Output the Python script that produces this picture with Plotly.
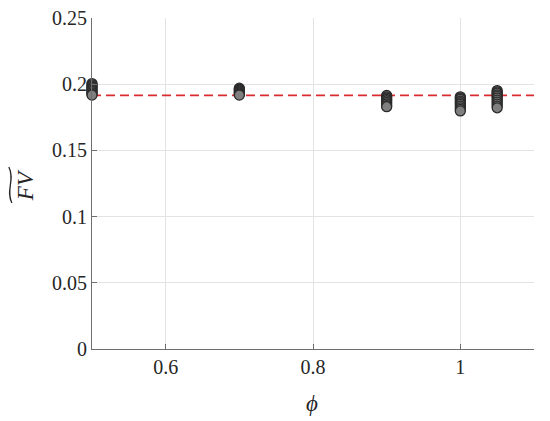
import plotly.graph_objects as go

phi_values = [0.5, 0.7, 0.9, 1.0, 1.05]
fv_by_phi = [
    [0.2005, 0.1995, 0.1985, 0.1975, 0.1965, 0.1955, 0.1945, 0.1935, 0.1925, 0.1918],
    [0.1970, 0.1962, 0.1955, 0.1948, 0.1940, 0.1932, 0.1925, 0.1918],
    [0.1915, 0.1905, 0.1895, 0.1885, 0.1875, 0.1862, 0.1850, 0.1838, 0.1830],
    [0.1905, 0.1895, 0.1885, 0.1872, 0.1860, 0.1848, 0.1835, 0.1822, 0.1810, 0.1798],
    [0.1952, 0.1942, 0.1932, 0.1920, 0.1908, 0.1895, 0.1880, 0.1865, 0.1850, 0.1835, 0.1822],
]
reference_fv = 0.1915
x_ticks = [0.6, 0.8, 1.0]
x_tick_labels = ["0.6", "0.8", "1"]
y_ticks = [0, 0.05, 0.1, 0.15, 0.2, 0.25]
y_tick_labels = ["0", "0.05", "0.1", "0.15", "0.2", "0.25"]

xs, ys = [], []
for p, vals in zip(phi_values, fv_by_phi):
    for v in vals:
        xs.append(p)
        ys.append(v)

fig = go.Figure()
fig.add_trace(go.Scatter(
    x=[0.5, 1.1], y=[reference_fv, reference_fv], mode="lines",
    line=dict(color="#d92b30", width=1.7, dash="9px,5px"),
    hoverinfo="skip", showlegend=False,
))
fig.add_trace(go.Scatter(
    x=xs, y=ys, mode="markers",
    marker=dict(size=10, color="#7f7f7f", line=dict(color="#2a2a2a", width=1.3)),
    showlegend=False, cliponaxis=False,
))

font_family = "Liberation Serif"
axis_color = "#6e6e6e"

# wide tilde over the y-axis title (rotated), in paper coordinates
def px_to_paper(px, py):
    return (px - 91.7) / 442.3, (349 - py) / 331.0

pts = [px_to_paper(11.5, 203), px_to_paper(5, 190), px_to_paper(15, 180), px_to_paper(8.5, 167)]
tilde_path = "M {:.4f},{:.4f} C {:.4f},{:.4f} {:.4f},{:.4f} {:.4f},{:.4f}".format(
    *[c for p in pts for c in p])

fig.update_layout(
    width=542, height=413,
    margin=dict(l=84, r=16, t=10, b=72, autoexpand=False),
    paper_bgcolor="white", plot_bgcolor="white",
    font=dict(family=font_family, size=20, color="#262626"),
    xaxis=dict(
        range=[0.5, 1.1], tickvals=x_ticks, ticktext=x_tick_labels,
        showgrid=True, gridcolor="#e3e3e3", gridwidth=1,
        showline=True, linecolor=axis_color, linewidth=1.2,
        ticks="inside", ticklen=5, tickcolor=axis_color,
        zeroline=False, mirror=False, automargin=False,
    ),
    yaxis=dict(
        range=[0, 0.25001], tickvals=y_ticks, ticktext=y_tick_labels,
        showgrid=True, gridcolor="#e3e3e3", gridwidth=1,
        showline=True, linecolor=axis_color, linewidth=1.2,
        ticks="inside", ticklen=5, tickcolor=axis_color,
        zeroline=False, mirror=False, ticklabeloverflow="allow",
        automargin=False,
    ),
    shapes=[dict(type="path", xref="paper", yref="paper", path=tilde_path,
                 line=dict(color="#262626", width=1.3))],
    annotations=[
        dict(text="<i>ϕ</i>", xref="paper", yref="paper", x=0.498, y=0,
             xanchor="center", yanchor="middle", yshift=-54, showarrow=False,
             font=dict(size=23, family=font_family, color="#262626")),
        dict(text="<i>FV</i>", xref="paper", yref="paper", x=0, y=0.495,
             xanchor="center", yanchor="middle", xshift=-67, textangle=-90,
             showarrow=False, font=dict(size=23, family=font_family, color="#262626")),
    ],
)

fig.write_html("out.html")
